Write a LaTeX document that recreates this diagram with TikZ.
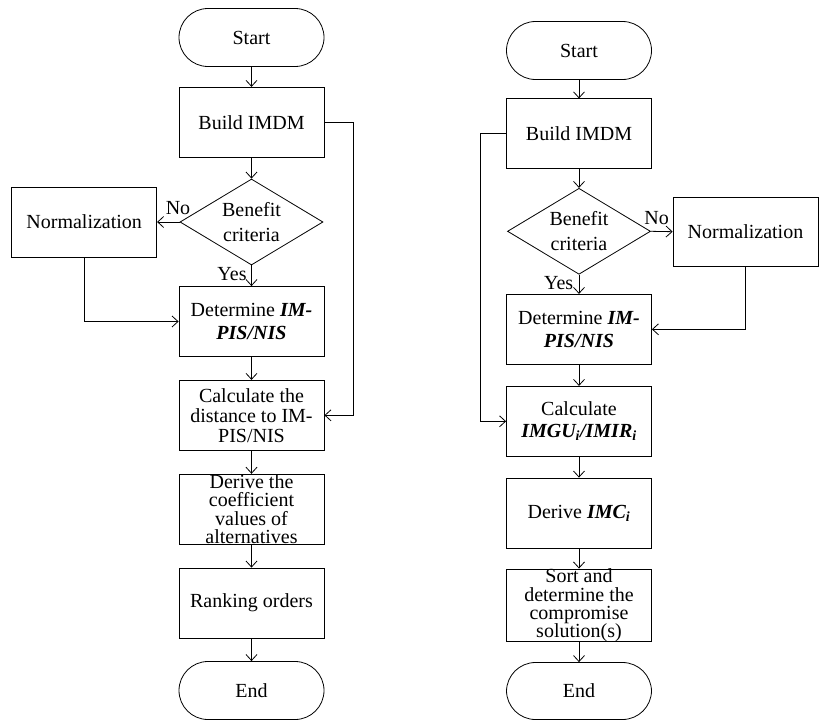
\documentclass[tikz,border=0pt]{standalone}
\usepackage{fontspec}
\setmainfont{Liberation Serif}
\usetikzlibrary{shapes.geometric,arrows.meta}
\begin{document}
\begin{tikzpicture}[x=1pt,y=-1pt,
  font=\fontsize{20}{20}\selectfont,
  every node/.style={inner sep=0pt},
  proc/.style={draw, line width=0.8pt, minimum width=145pt, minimum height=70pt, align=center},
  term/.style={draw, line width=0.8pt, minimum width=145pt, minimum height=58pt, rounded corners=29pt},
  dec/.style={draw, line width=0.8pt, diamond, aspect=1.66, minimum width=143pt, minimum height=86pt, align=center},
  flow/.style={line width=0.8pt, -{Straight Barb[length=6pt,width=11pt]}},
  lab/.style={font=\fontsize{20}{20}\selectfont}
]
\useasboundingbox (0,0) rectangle (822,720);
% ---------- left chart ----------
\node[term] (startL) at (251.5,37.5) {Start};
\node[proc] (buildL) at (251.5,122.3) {Build IMDM};
\node[dec, font=\fontsize{20}{25}\selectfont] (benL) at (251.5,222) {Benefit\\criteria};
\node[proc] (normL) at (84.2,222) {Normalization};
\node[proc, font=\fontsize{20}{23}\selectfont] (detL) at (251.5,321.5) {Determine \textbf{\textit{IM-}}\\\textbf{\textit{PIS/NIS}}};
\node[proc] (calcL) at (251.5,415.3) {Calculate the\\distance to IM-\\PIS/NIS};
\node[proc, font=\fontsize{20}{18.2}\selectfont] (derL) at (251.5,509.2) {Derive the\\coefficient\\values of\\alternatives};
\node[proc] (rankL) at (251.5,603) {Ranking orders};
\node[term] (endL) at (251.5,690.5) {End};
\coordinate (fbL) at (353,122.3);

\draw[flow] (startL) -- (buildL);
\draw[flow] (buildL) -- (benL);
\draw[flow] (benL) -- (detL);
\draw[flow] (benL.west) -- (normL.east);
\draw[flow] (normL.south) |- (detL.west);
\draw[flow] (detL) -- (calcL);
\draw[flow] (buildL.east) -- (fbL) |- (calcL.east);
\draw[flow] (calcL) -- (derL);
\draw[flow] (derL) -- (rankL);
\draw[flow] (rankL) -- (endL);
\node[lab] (noL) at (178,208) {No};
\node[lab] (yesL) at (232,274) {Yes};

% ---------- right chart ----------
\node[term] (startR) at (579,50.5) {Start};
\node[proc] (buildR) at (579,133.8) {Build IMDM};
\node[dec, font=\fontsize{20}{25}\selectfont] (benR) at (579,231.3) {Benefit\\criteria};
\node[proc, minimum height=69pt] (normR) at (745.5,231.7) {Normalization};
\node[proc, font=\fontsize{20}{23}\selectfont] (detR) at (579,329.3) {Determine \textbf{\textit{IM-}}\\\textbf{\textit{PIS/NIS}}};
\node[proc, font=\fontsize{20}{22}\selectfont] (calcR) at (579,421.3) {Calculate\\\textbf{\textit{IMGU\textsubscript{i}/IMIR\textsubscript{i}}}};
\node[proc] (derR) at (579,513) {Derive \textbf{\textit{IMC\textsubscript{i}}}};
\node[proc, font=\fontsize{20}{18.2}\selectfont] (sortR) at (579,605.3) {Sort and\\determine the\\compromise\\solution(s)};
\node[term, minimum height=57pt] (endR) at (579,691) {End};
\coordinate (fbR) at (480.7,133.8);

\draw[flow] (startR) -- (buildR);
\draw[flow] (buildR) -- (benR);
\draw[flow] (benR) -- (detR);
\draw[flow] (benR.east) -- (normR.west);
\draw[flow] (normR.south) |- (detR.east);
\draw[flow] (detR) -- (calcR);
\draw[flow] (buildR.west) -- (fbR) |- (calcR.west);
\draw[flow] (calcR) -- (derR);
\draw[flow] (derR) -- (sortR);
\draw[flow] (sortR) -- (endR);
\node[lab] (noR) at (656.7,218) {No};
\node[lab] (yesR) at (558.7,283) {Yes};
\end{tikzpicture}
\end{document}
